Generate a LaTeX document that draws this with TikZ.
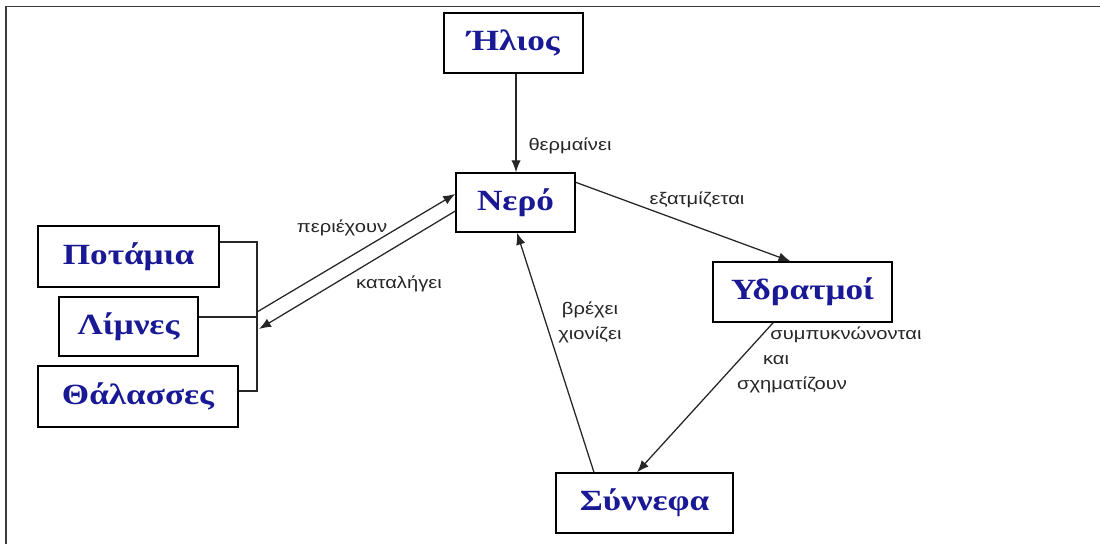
\documentclass[tikz,border=0pt]{standalone}
\usepackage{fontspec}
\usetikzlibrary{arrows.meta}
\newfontfamily\boxfont[FakeStretch=1.2]{Liberation Serif}
\newfontfamily\labfont[FakeStretch=1.2]{Liberation Sans}
\definecolor{boxblue}{RGB}{25,25,150}
\definecolor{framegray}{RGB}{60,60,60}
\tikzset{
  cbox/.style={draw=black, line width=1.05pt, fill=white, inner sep=0pt,
    text=boxblue, font={\boxfont\bfseries\fontsize{22}{26}\selectfont}},
  arr/.style={draw=black!85, line width=0.95pt, -{Latex[length=9pt,width=7pt]}},
  link/.style={draw=black!85, line width=0.95pt},
  lab/.style={inner sep=0pt, text=black!85, font={\labfont\fontsize{12.6}{18.75}\selectfont}}
}
\begin{document}
\begin{tikzpicture}[x=0.75pt, y=-0.75pt]
\useasboundingbox (0,0) rectangle (1100,544);
\fill[white] (0,0) rectangle (1100,544);
\draw[framegray, line width=1.4pt] (6,544) -- (6,6.5) -- (1100,6.5);

\node[cbox, minimum width=104.25pt, minimum height=45pt] (helios) at (513.5,43) {Ήλιος};
\node[cbox, minimum width=89.25pt, minimum height=44.25pt] (nero) at (515.5,202.5) {Νερό};
\node[cbox, minimum width=135.75pt, minimum height=45.75pt] (potamia) at (128.5,256.5) {Ποτάμια};
\node[cbox, minimum width=104.25pt, minimum height=44.25pt] (limnes) at (128.5,326.5) {Λίμνες};
\node[cbox, minimum width=150pt, minimum height=45.75pt] (thalasses) at (138,396.5) {Θάλασσες};
\node[cbox, minimum width=134.25pt, minimum height=45pt] (ydratmoi) at (802.5,292) {Υδρατμοί};
\node[cbox, minimum width=132.75pt, minimum height=45pt] (synnefa) at (644.5,503) {Σύννεφα};

\coordinate (j1) at (257,242);
\coordinate (j2) at (257,317);
\coordinate (j3) at (257,391);
\coordinate (jout) at (257,312);
\coordinate (jin) at (259,329);

\draw[link] (potamia.east |- j1) -- (j1) -- (j3) -- (thalasses.east |- j3);
\draw[link] (limnes.east |- j2) -- (j2);

\draw[arr] ([xshift=0.4pt]nero.north |- helios.south) -- ([xshift=0.4pt]nero.north);
\draw[arr] (jout) -- ([yshift=6.4pt]nero.west);
\draw[arr] ([yshift=-6.4pt]nero.west) -- (jin);
\draw[arr] ([yshift=-7.5pt]nero.north east) -- ([xshift=-9pt]ydratmoi.north);
\draw[arr] ([xshift=-22pt]ydratmoi.south) -- ([xshift=-5.6pt]synnefa.north);
\draw[arr] ([xshift=-37.9pt]synnefa.north) -- ([xshift=1.1pt]nero.south);

\node[lab] (l1) at (570,146) {θερμαίνει};
\node[lab] (l2) at (697,200) {εξατμίζεται};
\node[lab] (l3) at (342,228) {περιέχουν};
\node[lab] (l4) at (399,284) {καταλήγει};
\node[lab, align=center] (l5) at (590,322) {βρέχει\\χιονίζει};
\node[lab] (l6) at (846,335) {συμπυκνώνονται};
\node[lab] (l7) at (776,360) {και};
\node[lab] (l8) at (792,385) {σχηματίζουν};
\end{tikzpicture}
\end{document}
